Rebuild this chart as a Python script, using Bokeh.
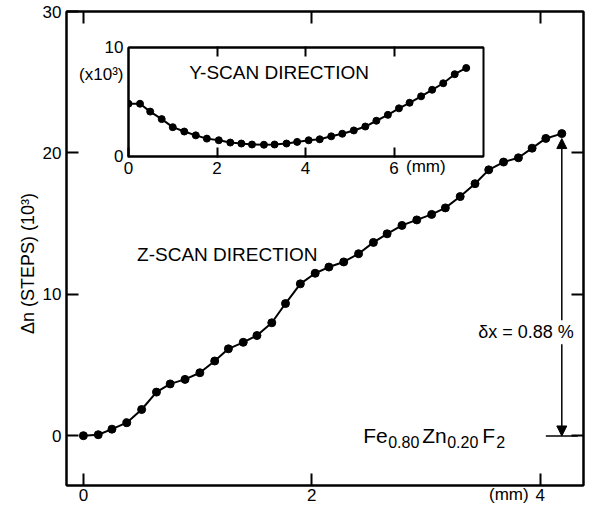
import numpy as np
from bokeh.plotting import figure
from bokeh.layouts import column
from bokeh.models import Range1d, FixedTicker, LinearAxis, Label, Arrow, NormalHead, Div
from bokeh.embed import file_html
from bokeh.resources import INLINE

# ---------------- data ----------------
# Z-scan (main plot): position (mm) vs delta n (10^3 steps)
z_pos = [0.00, 0.13, 0.25, 0.38, 0.51, 0.64, 0.76, 0.89, 1.02, 1.15, 1.27, 1.40,
         1.52, 1.65, 1.77, 1.90, 2.03, 2.15, 2.28, 2.41, 2.54, 2.66, 2.79, 2.92,
         3.05, 3.17, 3.30, 3.43, 3.55, 3.68, 3.81, 3.93, 4.05, 4.19]
z_dn = [0.02, 0.09, 0.48, 0.94, 1.87, 3.10, 3.68, 4.00, 4.47, 5.30, 6.16, 6.62,
        7.10, 8.00, 9.36, 10.75, 11.50, 11.94, 12.30, 12.88, 13.68, 14.29, 14.88, 15.27,
        15.66, 16.12, 16.92, 17.83, 18.81, 19.36, 19.66, 20.34, 21.03, 21.37]

# Y-scan (inset)
y_pos = [0.00, 0.26, 0.49, 0.75, 1.00, 1.26, 1.52, 1.77, 2.04, 2.30, 2.55, 2.79,
         3.06, 3.30, 3.57, 3.81, 4.07, 4.32, 4.58, 4.83, 5.09, 5.35, 5.60, 5.86,
         6.11, 6.35, 6.61, 6.86, 7.11, 7.37, 7.63]
y_dn = [4.84, 4.84, 4.12, 3.43, 2.69, 2.29, 1.94, 1.64, 1.49, 1.28, 1.19, 1.10,
        1.08, 1.10, 1.19, 1.34, 1.49, 1.58, 1.85, 2.09, 2.39, 2.75, 3.28, 3.82,
        4.42, 4.93, 5.52, 6.12, 6.72, 7.55, 8.12]

main_xticks = [0, 2, 4]
main_yticks = [0, 10, 20, 30]
main_right_ticks = [0, 10, 20]
inset_xticks = [0, 2, 4, 6]
inset_top_ticks = [2, 4, 6]
inset_yticks = [0, 10]
inset_unit_pos = 7.55          # where the "(x10^3)" unit note sits on the inset y-axis
inset_unit_text = "(x10³)"

baseline_x = [4.05, 4.33]   # short reference line at dn = 0
baseline_y = [0, 0]

FONT = "Liberation Sans"
BLACK = "black"

# ---------------- main figure ----------------
p = figure(width=589, height=509, output_backend="svg", toolbar_location=None,
           x_range=Range1d(-0.148, 4.38), y_range=Range1d(-3.5, 30),
           min_border_left=66, min_border_right=2, min_border_top=11,
           min_border_bottom=24)
p.grid.visible = False
p.background_fill_color = "white"
p.border_fill_color = "white"
p.outline_line_color = BLACK
p.outline_line_width = 2

ax_bottom = p.below[0]
ax_left = p.left[0]
ax_bottom.ticker = FixedTicker(ticks=main_xticks)
ax_left.ticker = FixedTicker(ticks=main_yticks)
ax_left.axis_label = "Δn (STEPS) (10³)" + "\u00a0" * 6
ax_left.axis_label_standoff = 2
ax_left.axis_label_text_font = FONT
ax_left.axis_label_text_font_size = "18px"
ax_left.axis_label_text_font_style = "normal"
ax_left.axis_label_text_color = BLACK

ax_top = LinearAxis(ticker=FixedTicker(ticks=main_xticks),
                    major_label_overrides={t: "" for t in main_xticks},
                    major_label_text_font_size="1px", major_label_standoff=0)
ax_right = LinearAxis(ticker=FixedTicker(ticks=main_right_ticks),
                      major_label_overrides={t: "" for t in main_right_ticks},
                      major_label_text_font_size="1px", major_label_standoff=0)
p.add_layout(ax_top, "above")
p.add_layout(ax_right, "right")

for ax in (ax_bottom, ax_left, ax_top, ax_right):
    ax.axis_line_color = BLACK
    ax.axis_line_width = 2
    ax.major_tick_line_color = BLACK
    ax.major_tick_line_width = 2
    ax.major_tick_in = 12
    ax.major_tick_out = 0
    ax.minor_tick_line_color = None
    ax.major_label_text_font = FONT
    ax.major_label_text_color = BLACK
for ax in (ax_bottom, ax_left):
    ax.major_label_text_font_size = "17px"
ax_bottom.major_label_standoff = 3
ax_left.major_label_standoff = 5

p.line(z_pos, z_dn, line_color=BLACK, line_width=2)
p.scatter(z_pos, z_dn, size=8, fill_color=BLACK, line_color=BLACK)
p.line(baseline_x, baseline_y, line_color=BLACK, line_width=1.5)

# double-headed arrow showing the total shift
p.add_layout(Arrow(x_start=z_pos[-1], y_start=0, x_end=z_pos[-1], y_end=z_dn[-1] - 0.35,
                   line_color=BLACK, line_width=1.5,
                   start=NormalHead(size=10, fill_color=BLACK, line_color=BLACK),
                   end=NormalHead(size=10, fill_color=BLACK, line_color=BLACK)))

p.add_layout(Label(x=0.47, y=12.85, text="Z-SCAN DIRECTION", text_font=FONT,
                   text_font_size="19px", text_baseline="middle", text_color=BLACK))
p.add_layout(Label(x=3.44, y=7.33, text="δx = 0.88 %", text_font=FONT,
                   text_font_size="18px", text_baseline="middle", text_color=BLACK,
                   background_fill_color="white", padding=2))

# chemical formula Fe0.80 Zn0.20 F2
formula_parts = [("Fe", 0, 0, "21px"), ("0.80", 25, -6, "16px"), ("Zn", 59, 0, "21px"),
                 ("0.20", 84, -6, "16px"), ("F", 119, 0, "21px"), ("2", 133, -6, "16px")]
for txt, dx, dy, fs in formula_parts:
    p.add_layout(Label(x=2.45, y=0, x_offset=dx, y_offset=dy, text=txt, text_font=FONT,
                       text_font_size=fs, text_baseline="alphabetic", text_color=BLACK))

# ---------------- inset ----------------
inset = figure(width=427, height=147, output_backend="svg", toolbar_location=None,
               x_range=Range1d(0, 8.02), y_range=Range1d(0, 10),
               min_border_left=62, min_border_right=6, min_border_top=12,
               min_border_bottom=26)
inset.grid.visible = False
inset.background_fill_color = "white"
inset.border_fill_color = None
inset.outline_line_color = BLACK
inset.outline_line_width = 2
inset.styles = {"position": "absolute", "left": "62px", "top": "35px"}

in_bottom = inset.below[0]
in_left = inset.left[0]
in_bottom.ticker = FixedTicker(ticks=inset_xticks)
in_left.ticker = FixedTicker(ticks=inset_yticks + [inset_unit_pos])
in_left.major_label_overrides = {inset_unit_pos: inset_unit_text}
in_top = LinearAxis(ticker=FixedTicker(ticks=inset_top_ticks),
                    major_label_overrides={t: "" for t in inset_top_ticks},
                    major_label_text_font_size="1px", major_label_standoff=0)
inset.add_layout(in_top, "above")
for ax in (in_bottom, in_left, in_top):
    ax.axis_line_color = BLACK
    ax.axis_line_width = 2
    ax.major_tick_line_color = BLACK
    ax.major_tick_line_width = 2
    ax.major_tick_in = 9
    ax.major_tick_out = 1
    ax.minor_tick_line_color = None
    ax.major_label_text_font = FONT
    ax.major_label_text_color = BLACK
in_left.major_tick_line_color = None
in_bottom.major_label_text_font_size = "17px"
in_bottom.major_label_standoff = 4
in_left.major_label_text_font_size = "17px"
in_left.major_label_standoff = 4

inset.line(y_pos, y_dn, line_color=BLACK, line_width=2)
inset.scatter(y_pos, y_dn, size=7, fill_color=BLACK, line_color=BLACK)

inset.add_layout(Label(x=1.37, y=7.7, text="Y-SCAN DIRECTION", text_font=FONT,
                       text_font_size="19px", text_baseline="middle", text_color=BLACK))

# unit notes next to the x tick labels
div_style = {"position": "absolute", "font-family": FONT, "font-size": "17px",
             "color": "black", "line-height": "20px", "white-space": "nowrap"}
mm_main = Div(text="(mm)", styles=dict(div_style, left="484px", top="480px"))
mm_inset = Div(text="(mm)", styles=dict(div_style, left="401px", top="152px"))

layout = column(p, inset, mm_main, mm_inset)
layout.styles = {"position": "relative"}

open("out.html", "w").write(file_html(layout, INLINE))
